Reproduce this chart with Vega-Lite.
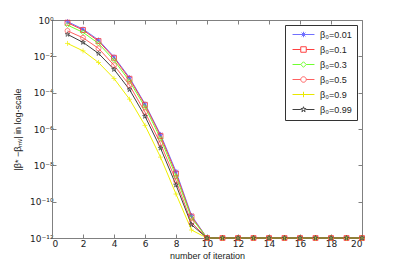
{
"$schema": "https://vega.github.io/schema/vega-lite/v6.json",
"width": 310, "height": 218,
"autosize": "none",
"padding": {"left": 52, "top": 20, "right": 37, "bottom": 30},
"background": "white",
"config": {
  "font": "Liberation Sans",
  "view": {"stroke": "#808080", "strokeWidth": 1},
  "axis": {"grid": false, "domainColor": "#808080", "tickColor": "#808080", "tickSize": -4, "labelFontSize": 9, "labelColor": "#222", "titleFontSize": 9, "titleFontWeight": "normal", "titleColor": "#222", "labelPadding": 3, "labelFont": "DejaVu Sans"}
},
"data": {"values": [
{"s":"β₀=0.01","x":1,"y":0.813},{"s":"β₀=0.01","x":2,"y":0.316},{"s":"β₀=0.01","x":3,"y":0.0794},{"s":"β₀=0.01","x":4,"y":0.00933},{"s":"β₀=0.01","x":5,"y":6.76e-4},{"s":"β₀=0.01","x":6,"y":2.40e-5},{"s":"β₀=0.01","x":7,"y":5.01e-7},{"s":"β₀=0.01","x":8,"y":4.57e-9},{"s":"β₀=0.01","x":9,"y":1.74e-11},{"s":"β₀=0.01","x":10,"y":1e-12},{"s":"β₀=0.01","x":11,"y":1e-12},{"s":"β₀=0.01","x":12,"y":1e-12},{"s":"β₀=0.01","x":13,"y":1e-12},{"s":"β₀=0.01","x":14,"y":1e-12},{"s":"β₀=0.01","x":15,"y":1e-12},{"s":"β₀=0.01","x":16,"y":1e-12},{"s":"β₀=0.01","x":17,"y":1e-12},{"s":"β₀=0.01","x":18,"y":1e-12},{"s":"β₀=0.01","x":19,"y":1e-12},{"s":"β₀=0.01","x":20,"y":1e-12},
{"s":"β₀=0.1","x":1,"y":0.708},{"s":"β₀=0.1","x":2,"y":0.282},{"s":"β₀=0.1","x":3,"y":0.0692},{"s":"β₀=0.1","x":4,"y":0.00832},{"s":"β₀=0.1","x":5,"y":5.75e-4},{"s":"β₀=0.1","x":6,"y":2.14e-5},{"s":"β₀=0.1","x":7,"y":4.17e-7},{"s":"β₀=0.1","x":8,"y":3.55e-9},{"s":"β₀=0.1","x":9,"y":1.51e-11},{"s":"β₀=0.1","x":10,"y":1e-12},{"s":"β₀=0.1","x":11,"y":1e-12},{"s":"β₀=0.1","x":12,"y":1e-12},{"s":"β₀=0.1","x":13,"y":1e-12},{"s":"β₀=0.1","x":14,"y":1e-12},{"s":"β₀=0.1","x":15,"y":1e-12},{"s":"β₀=0.1","x":16,"y":1e-12},{"s":"β₀=0.1","x":17,"y":1e-12},{"s":"β₀=0.1","x":18,"y":1e-12},{"s":"β₀=0.1","x":19,"y":1e-12},{"s":"β₀=0.1","x":20,"y":1e-12},
{"s":"β₀=0.3","x":1,"y":0.525},{"s":"β₀=0.3","x":2,"y":0.209},{"s":"β₀=0.3","x":3,"y":0.0513},{"s":"β₀=0.3","x":4,"y":0.00617},{"s":"β₀=0.3","x":5,"y":4.27e-4},{"s":"β₀=0.3","x":6,"y":1.62e-5},{"s":"β₀=0.3","x":7,"y":3.02e-7},{"s":"β₀=0.3","x":8,"y":2.51e-9},{"s":"β₀=0.3","x":9,"y":1.26e-11},{"s":"β₀=0.3","x":10,"y":1e-12},{"s":"β₀=0.3","x":11,"y":1e-12},{"s":"β₀=0.3","x":12,"y":1e-12},{"s":"β₀=0.3","x":13,"y":1e-12},{"s":"β₀=0.3","x":14,"y":1e-12},{"s":"β₀=0.3","x":15,"y":1e-12},{"s":"β₀=0.3","x":16,"y":1e-12},{"s":"β₀=0.3","x":17,"y":1e-12},{"s":"β₀=0.3","x":18,"y":1e-12},{"s":"β₀=0.3","x":19,"y":1e-12},{"s":"β₀=0.3","x":20,"y":1e-12},
{"s":"β₀=0.5","x":1,"y":0.251},{"s":"β₀=0.5","x":2,"y":0.105},{"s":"β₀=0.5","x":3,"y":0.0275},{"s":"β₀=0.5","x":4,"y":0.00324},{"s":"β₀=0.5","x":5,"y":2.57e-4},{"s":"β₀=0.5","x":6,"y":8.51e-6},{"s":"β₀=0.5","x":7,"y":1.58e-7},{"s":"β₀=0.5","x":8,"y":1.45e-9},{"s":"β₀=0.5","x":9,"y":7.08e-12},{"s":"β₀=0.5","x":10,"y":1e-12},{"s":"β₀=0.5","x":11,"y":1e-12},{"s":"β₀=0.5","x":12,"y":1e-12},{"s":"β₀=0.5","x":13,"y":1e-12},{"s":"β₀=0.5","x":14,"y":1e-12},{"s":"β₀=0.5","x":15,"y":1e-12},{"s":"β₀=0.5","x":16,"y":1e-12},{"s":"β₀=0.5","x":17,"y":1e-12},{"s":"β₀=0.5","x":18,"y":1e-12},{"s":"β₀=0.5","x":19,"y":1e-12},{"s":"β₀=0.5","x":20,"y":1e-12},
{"s":"β₀=0.9","x":1,"y":0.0513},{"s":"β₀=0.9","x":2,"y":0.02},{"s":"β₀=0.9","x":3,"y":0.00457},{"s":"β₀=0.9","x":4,"y":6.03e-4},{"s":"β₀=0.9","x":5,"y":4.37e-5},{"s":"β₀=0.9","x":6,"y":1.58e-6},{"s":"β₀=0.9","x":7,"y":2.82e-8},{"s":"β₀=0.9","x":8,"y":2.63e-10},{"s":"β₀=0.9","x":9,"y":2.75e-12},{"s":"β₀=0.9","x":10,"y":1e-12},{"s":"β₀=0.9","x":11,"y":1e-12},{"s":"β₀=0.9","x":12,"y":1e-12},{"s":"β₀=0.9","x":13,"y":1e-12},{"s":"β₀=0.9","x":14,"y":1e-12},{"s":"β₀=0.9","x":15,"y":1e-12},{"s":"β₀=0.9","x":16,"y":1e-12},{"s":"β₀=0.9","x":17,"y":1e-12},{"s":"β₀=0.9","x":18,"y":1e-12},{"s":"β₀=0.9","x":19,"y":1e-12},{"s":"β₀=0.9","x":20,"y":1e-12},
{"s":"β₀=0.99","x":1,"y":0.162},{"s":"β₀=0.99","x":2,"y":0.0589},{"s":"β₀=0.99","x":3,"y":0.0145},{"s":"β₀=0.99","x":4,"y":0.00191},{"s":"β₀=0.99","x":5,"y":1.48e-4},{"s":"β₀=0.99","x":6,"y":5.01e-6},{"s":"β₀=0.99","x":7,"y":8.91e-8},{"s":"β₀=0.99","x":8,"y":8.32e-10},{"s":"β₀=0.99","x":9,"y":5.37e-12},{"s":"β₀=0.99","x":10,"y":1e-12},{"s":"β₀=0.99","x":11,"y":1e-12},{"s":"β₀=0.99","x":12,"y":1e-12},{"s":"β₀=0.99","x":13,"y":1e-12},{"s":"β₀=0.99","x":14,"y":1e-12},{"s":"β₀=0.99","x":15,"y":1e-12},{"s":"β₀=0.99","x":16,"y":1e-12},{"s":"β₀=0.99","x":17,"y":1e-12},{"s":"β₀=0.99","x":18,"y":1e-12},{"s":"β₀=0.99","x":19,"y":1e-12},{"s":"β₀=0.99","x":20,"y":1e-12}
]},
"layer": [
  {"mark": {"type": "line", "strokeWidth": 1},
   "encoding": {
     "x": {"field": "x", "type": "quantitative", "scale": {"domain": [0, 20], "nice": false}, "axis": {"orient": "bottom", "values": [0,2,4,6,8,10,12,14,16,18,20], "title": "number of iteration", "titlePadding": 3, "labelPadding": 5}},
     "y": {"field": "y", "type": "quantitative", "scale": {"type": "log", "domain": [1e-12, 1], "nice": false}, "axis": {"orient": "left", "values": [1e-12,1e-10,1e-8,1e-6,1e-4,1e-2,1], "title": "|β* −βₘᵥ| in log-scale", "titlePadding": 7, "labelExpr": "round(log(datum.value)/LN10) == 0 ? '10⁰' : round(log(datum.value)/LN10) == -2 ? '10⁻²' : round(log(datum.value)/LN10) == -4 ? '10⁻⁴' : round(log(datum.value)/LN10) == -6 ? '10⁻⁶' : round(log(datum.value)/LN10) == -8 ? '10⁻⁸' : round(log(datum.value)/LN10) == -10 ? '10⁻¹⁰' : '10⁻¹²'"}},
     "color": {"field": "s", "type": "nominal", "scale": {"domain": ["β₀=0.01","β₀=0.1","β₀=0.3","β₀=0.5","β₀=0.9","β₀=0.99"], "range": ["#7070ff","#ff4040","#70ff30","#ff6060","#f0f000","#404040"]}, "legend": null}
   }},
  {"mark": {"type": "point", "filled": false, "size": 25, "strokeWidth": 1},
   "encoding": {
     "x": {"field": "x", "type": "quantitative", "axis": {"orient": "top", "values": [0,2,4,6,8,10,12,14,16,18,20], "labels": false, "title": null, "domain": false}},
     "y": {"field": "y", "type": "quantitative", "axis": {"orient": "right", "values": [1e-12,1e-10,1e-8,1e-6,1e-4,1e-2,1], "labels": false, "title": null, "domain": false}},
     "color": {"field": "s", "type": "nominal", "legend": null, "scale": {"domain": ["β₀=0.01","β₀=0.1","β₀=0.3","β₀=0.5","β₀=0.9","β₀=0.99"], "range": ["#5050ff","#ff3030","#60ff20","#ff5050","#f0f000","#303030"]}},
     "shape": {"field": "s", "type": "nominal", "legend": null, "scale": {"domain": ["β₀=0.01","β₀=0.1","β₀=0.3","β₀=0.5","β₀=0.9","β₀=0.99"], "range": ["M-1,0L1,0M0,-1L0,1M-0.7,-0.7L0.7,0.7M-0.7,0.7L0.7,-0.7", "square", "diamond", "circle", "M-1,0L1,0M0,-1L0,1", "M0,-1L0.225,-0.309L0.951,-0.309L0.363,0.118L0.588,0.809L0,0.382L-0.588,0.809L-0.363,0.118L-0.951,-0.309L-0.225,-0.309Z"]}}
   }},
  {"mark": {"type": "point", "filled": false, "size": 25, "strokeWidth": 1, "opacity": 0},
   "encoding": {
     "x": {"field": "x", "type": "quantitative", "axis": null},
     "y": {"field": "y", "type": "quantitative", "axis": null},
     "color": {"field": "s", "type": "nominal", "scale": {"domain": ["β₀=0.01","β₀=0.1","β₀=0.3","β₀=0.5","β₀=0.9","β₀=0.99"], "range": ["#7070ff","#ff4040","#70ff30","#ff6060","#e8e800","#404040"]}, "legend": {"title": null, "orient": "top-right", "offset": 5, "strokeColor": "#333", "fillColor": "white", "padding": 5, "labelFontSize": 9, "labelColor": "#222", "symbolSize": 30, "symbolOpacity": 1, "symbolStrokeWidth": 1, "symbolOffset": 9, "labelOffset": 12, "rowPadding": 4}},
     "shape": {"field": "s", "type": "nominal", "scale": {"domain": ["β₀=0.01","β₀=0.1","β₀=0.3","β₀=0.5","β₀=0.9","β₀=0.99"], "range": ["M-4,0L4,0M-1,0L1,0M0,-1L0,1M-0.7,-0.7L0.7,0.7M-0.7,0.7L0.7,-0.7", "M-4,0L-1,0M1,0L4,0M-1,-1L1,-1L1,1L-1,1Z", "M-4,0L-1,0M1,0L4,0M-1,0L0,-1L1,0L0,1Z", "M-4,0L-1,0M1,0L4,0M-1,0A1,1,0,1,1,1,0A1,1,0,1,1,-1,0Z", "M-4,0L4,0M0,-1L0,1", "M-4,0L-0.95,0M0.95,0L4,0M0,-1L0.225,-0.309L0.951,-0.309L0.363,0.118L0.588,0.809L0,0.382L-0.588,0.809L-0.363,0.118L-0.951,-0.309L-0.225,-0.309Z"]}, "legend": {"title": null, "orient": "top-right", "offset": 5, "strokeColor": "#333", "fillColor": "white", "padding": 5, "labelFontSize": 9, "labelColor": "#222", "symbolSize": 30, "symbolOpacity": 1, "symbolStrokeWidth": 1, "symbolOffset": 9, "labelOffset": 12, "rowPadding": 4}}
   }}
],
"resolve": {"scale": {"shape": "independent", "color": "independent"}, "axis": {"x": "independent", "y": "independent"}}
}
